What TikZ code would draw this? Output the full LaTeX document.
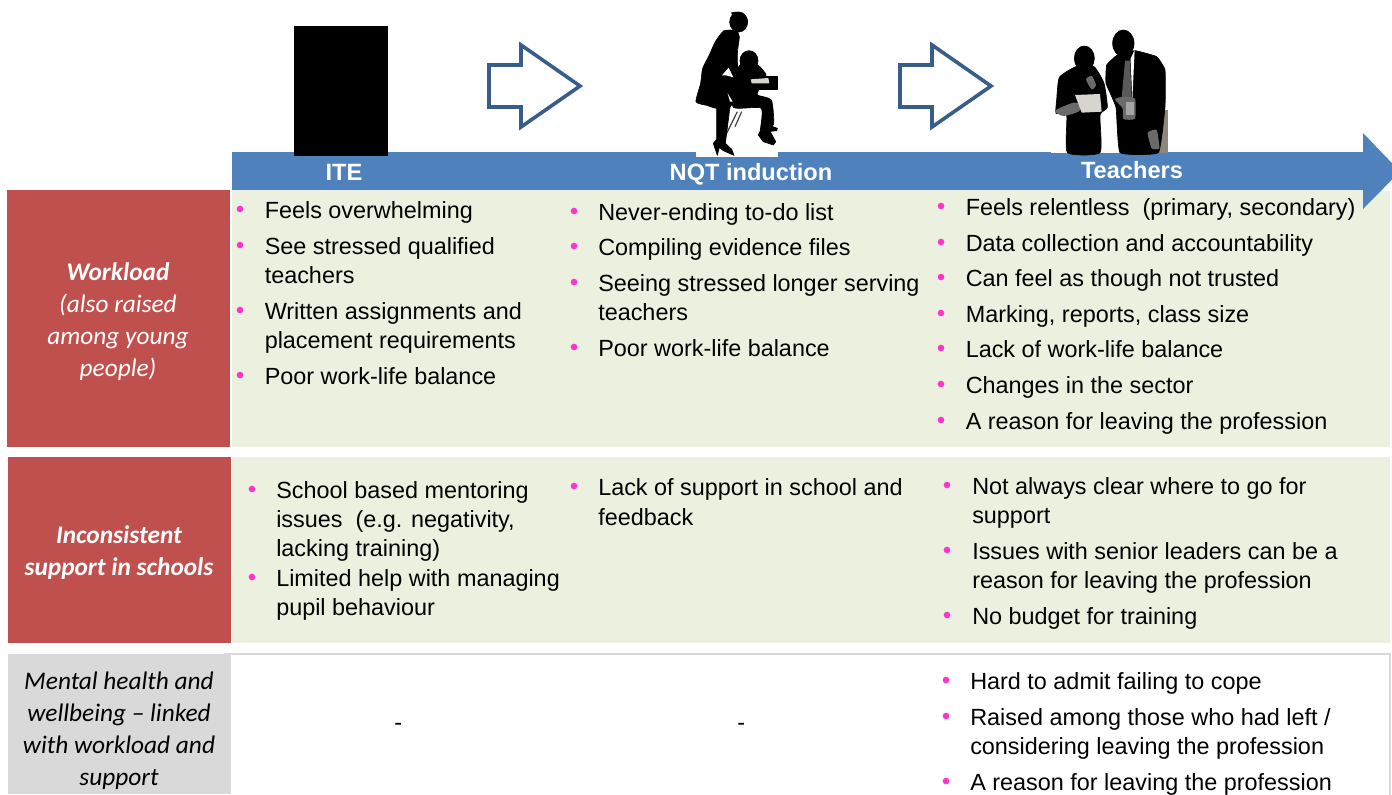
\documentclass[tikz,border=0pt]{standalone}
\usepackage{fontspec}
\setmainfont{Liberation Sans}
\newfontfamily\calib{Carlito}
\definecolor{barblue}{HTML}{4F81BD}
\definecolor{rowgreen}{HTML}{EBF1DE}
\definecolor{rowred}{HTML}{C0504D}
\definecolor{rowgrey}{HTML}{D9D9D9}
\definecolor{arrowedge}{HTML}{385D8A}
\definecolor{bulletpink}{HTML}{FF33CC}
\definecolor{handgrey}{HTML}{6A6A6A}
\definecolor{papergrey}{HTML}{D8D4D0}
\definecolor{strip}{HTML}{8F857C}
\newcounter{ln}
\tikzset{
 line/.style={anchor=base west,inner sep=0pt,font=\fontsize{17.55pt}{22pt}\selectfont,text=black},
 head/.style={anchor=base,inner sep=0pt,font=\fontsize{17.7pt}{22pt}\selectfont\bfseries,text=white},
 lab/.style={align=center,inner sep=0pt,font=\calib\fontsize{19pt}{24pt}\selectfont\itshape},
 outarrow/.style={draw=arrowedge,line width=2.7pt,fill=white,line join=miter},
 sil/.style={fill=black,draw=black,line width=0.5pt,line join=round},
}
\newcommand{\tl}[3]{\stepcounter{ln}\node[line] (t\theln) at (#1,#2+8) {#3};}
\begin{document}
\begin{tikzpicture}[x=0.75pt,y=-0.75pt]
\path[use as bounding box] (0,0) rectangle (1392,794);
\begin{scope}
\clip (0,0) rectangle (1392,794);
% rows
\fill[rowgreen] (232,191) rectangle (1390,447);
\fill[rowred] (7,190) rectangle (230,447);
\fill[rowgreen] (232,457) rectangle (1390,643);
\fill[rowred] (8,457) rectangle (231,643);
\draw[draw=black!15,line width=0.8pt,fill=white] (224,654) -- (1390,654) -- (1390,800);
\fill[rowgrey] (8,654) rectangle (231,794);
% time arrow
\fill[barblue] (232,152) -- (1363,152) -- (1363,133) -- (1400,171.5) -- (1363,209) -- (1363,190) -- (232,190) -- cycle;
% outline arrows
\draw[outarrow] (489,65) -- (521,65) -- (521,45) -- (580,86) -- (521,127) -- (521,107) -- (489,107) -- cycle;
\draw[outarrow] (900,65) -- (932,65) -- (932,45) -- (991,86) -- (932,127) -- (932,107) -- (900,107) -- cycle;
% black rectangle
\fill[black] (294,26) rectangle (388,156);
% NQT silhouette
\fill[white] (696,140) rectangle (778,157);
\begin{scope}[shift={(680,0)},x=0.25pt,y=-0.25pt]
 % chair legs
 \draw[black!75,line width=0.9pt] (185,335) -- (165,380) (172,335) -- (135,410);
 % teacher
 \fill[sil] (176,66) ellipse [x radius=27,y radius=30];
 \fill[sil] (155,38) -- (172,36) -- (180,50) -- (160,55) -- cycle;
 \fill[sil] plot[smooth cycle,tension=0.35] coordinates {(168,92) (132,92) (106,125) (88,165) (68,205) (62,250) (48,305) (80,316) (110,325) (150,322) (172,260) (172,160) (178,110)};
 \fill[sil] (110,320) -- (150,320) -- (136,430) -- (155,448) -- (162,466) -- (130,452) -- (118,442) -- (112,466) -- (100,430) -- (110,418) -- cycle;
 % student
 \fill[sil] (207,182) ellipse [x radius=27,y radius=30];
 \fill[sil] plot[smooth cycle,tension=0.35] coordinates {(180,195) (232,195) (258,225) (240,262) (232,285) (274,300) (281,372) (258,392) (240,402) (244,325) (160,322) (162,240)};
 \fill[sil] (240,395) -- (268,390) -- (287,425) -- (280,435) -- (250,425) -- (235,405) -- cycle;
 \fill[sil] (265,375) -- (292,385) -- (290,392) -- (262,395) -- cycle;
 \fill[sil] (220,230) -- (293,230) -- (293,268) -- (220,268) -- cycle;
 % gaps
 \fill[white] (126,226) -- (146,203) -- (160,232) -- (138,226) -- cycle;
 \fill[white] (143,280) -- (158,305) -- (150,305) -- cycle;
 \fill[papergrey] (212,238) -- (265,234) -- (268,250) -- (215,250) -- cycle;
\end{scope}
% Teachers silhouette
\begin{scope}[shift={(1040,20)},x=0.25pt,y=-0.25pt]
 \fill[white] (33,380) rectangle (385,398);
 \fill[strip] (355,270) -- (385,270) -- (385,398) -- (355,398) -- cycle;
 % woman
 \fill[sil] (133,115) ellipse [x radius=30,y radius=37];
 \fill[sil] plot[smooth cycle,tension=0.3] coordinates {(108,140) (58,172) (50,240) (48,280) (80,285) (82,398) (180,398) (180,285) (202,262) (192,190) (162,140)};
 \fill[handgrey] plot[smooth cycle,tension=0.4] coordinates {(45,272) (100,248) (125,255) (115,275) (70,288)};
 \fill[handgrey] plot[smooth cycle,tension=0.4] coordinates {(138,178) (155,168) (168,195) (155,208)};
 \fill[papergrey] (105,225) -- (180,222) -- (185,275) -- (125,278) -- cycle;
 % man
 \fill[sil] (250,70) ellipse [x radius=32,y radius=40];
 \fill[sil] plot[smooth cycle,tension=0.2] coordinates {(232,105) (200,135) (198,190) (228,262) (240,398) (355,398) (375,260) (375,150) (350,110) (285,92)};
 \fill[white] (272,115) -- (284,90) -- (282,130) -- (277,240) -- (272,125) -- cycle;
 \fill[black!65] (255,122) -- (270,122) -- (275,235) -- (245,232) -- cycle;
 \fill[handgrey] plot[smooth cycle,tension=0.3] coordinates {(225,238) (250,230) (285,236) (285,296) (250,297) (248,265)};
 \fill[black!35] (258,245) -- (282,245) -- (282,285) -- (258,285) -- cycle;
 \fill[handgrey] plot[smooth cycle,tension=0.3] coordinates {(323,338) (350,330) (358,385) (335,385)};
\end{scope}
\end{scope}
% headings
\node[head] (hite) at (344,180) {ITE};
\node[head] (hnqt) at (751,180) {NQT induction};
\node[head] (htea) at (1132,178) {Teachers};
% labels
\node[lab,text=white] (lwork) at (118,321.5) {{\bfseries Workload}\\(also raised\\among young\\people)};
\node[lab,text=white] (lsupp) at (119,552.5) {\bfseries Inconsistent\\\bfseries support in schools};
\node[lab,text=black] (lment) at (119,731) {Mental health and\\wellbeing – linked\\with workload and\\support};
% bullets
\foreach \x/\y in {240/210,240/246,240/311,240/376,
 574/212,574/247,574/283,574/348,
 941/207,941/243,941/278,941/314,941/349,941/385,941/421,
 252/490,252/578,574/487,
 947/486,947/551,947/616,
 946/681,946/717,946/782}
 \fill[bulletpink] (\x,\y-1) circle (2.5pt);
% ITE workload
\tl{264.5}{210}{Feels overwhelming}
\tl{264.5}{246}{See stressed qualified}
\tl{264.5}{275}{teachers}
\tl{264.5}{311}{Written assignments and}
\tl{264.5}{340}{placement requirements}
\tl{264.5}{376}{Poor work-life balance}
% NQT workload
\tl{598}{212}{Never-ending to-do list}
\tl{598}{247}{Compiling evidence files}
\tl{598}{283}{Seeing stressed longer serving}
\tl{598}{312}{teachers}
\tl{598}{348}{Poor work-life balance}
% Teachers workload
\tl{965.5}{207}{Feels relentless\ \ (primary, secondary)}
\tl{965.5}{243}{Data collection and accountability}
\tl{965.5}{278}{Can feel as though not trusted}
\tl{965.5}{314}{Marking, reports, class size}
\tl{965.5}{349}{Lack of work-life balance}
\tl{965.5}{385}{Changes in the sector}
\tl{965.5}{421}{A reason for leaving the profession}
% support
\tl{276}{490}{School based mentoring}
\tl{276}{519}{issues\ \ (e.g. negativity,}
\tl{276}{548}{lacking training)}
\tl{276}{578}{Limited help with managing}
\tl{276}{607}{pupil behaviour}
\tl{598}{487}{Lack of support in school and}
\tl{598}{517}{feedback}
\tl{972}{486}{Not always clear where to go for}
\tl{972}{515}{support}
\tl{972}{551}{Issues with senior leaders can be a}
\tl{972}{580}{reason for leaving the profession}
\tl{972}{616}{No budget for training}
% mental health
\tl{970}{681}{Hard to admit failing to cope}
\tl{970}{717}{Raised among those who had left /}
\tl{970}{746}{considering leaving the profession}
\tl{970}{782}{A reason for leaving the profession}
\tl{394}{722}{-}
\tl{737}{722}{-}
\end{tikzpicture}
\end{document}
